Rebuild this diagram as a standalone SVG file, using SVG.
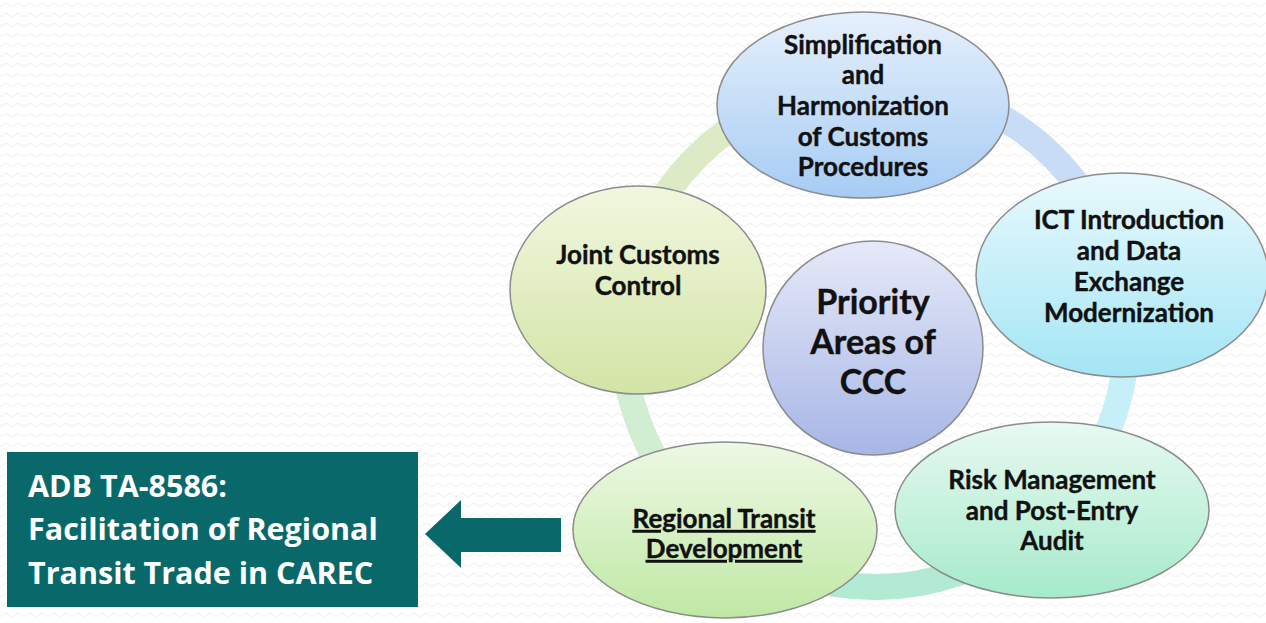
<svg xmlns="http://www.w3.org/2000/svg" width="1266" height="623" viewBox="0 0 1266 623">
<defs>
<pattern id="zz" x="0" y="0" width="12" height="10" patternUnits="userSpaceOnUse">
<polyline points="0,7 6,3 12,7" fill="none" stroke="#f3f3f3" stroke-width="1.4"/>
</pattern>
<linearGradient id="gSimp" x1="0" y1="0" x2="0" y2="1"><stop offset="0" stop-color="#e6f0fc"/><stop offset="1" stop-color="#a6ccf4"/></linearGradient>
<linearGradient id="gIct" x1="0" y1="0" x2="0" y2="1"><stop offset="0" stop-color="#e9f9fd"/><stop offset="1" stop-color="#a3e5f4"/></linearGradient>
<linearGradient id="gJoint" x1="0" y1="0" x2="0" y2="1"><stop offset="0" stop-color="#f1f7df"/><stop offset="1" stop-color="#d3e4a6"/></linearGradient>
<linearGradient id="gPrio" x1="0" y1="0" x2="0" y2="1"><stop offset="0" stop-color="#e6e9f8"/><stop offset="1" stop-color="#a7b6e6"/></linearGradient>
<linearGradient id="gReg" x1="0" y1="0" x2="0" y2="1"><stop offset="0" stop-color="#eef8e4"/><stop offset="1" stop-color="#bfe8a4"/></linearGradient>
<linearGradient id="gRisk" x1="0" y1="0" x2="0" y2="1"><stop offset="0" stop-color="#e8f9f1"/><stop offset="1" stop-color="#a6eacb"/></linearGradient>
</defs>
<style>
.node ellipse{stroke:#8c8c8c;stroke-width:1.5}
.t{font-family:Lato,"Liberation Sans",sans-serif;font-weight:bold;font-size:26px;fill:#111;text-anchor:middle;stroke:#111;stroke-width:0.4}
.big{font-size:34px}
.w{font-family:"Open Sans","Liberation Sans",sans-serif;font-weight:bold;font-size:30.5px;fill:#ffffff}
.ring{fill:none;stroke-width:26}
</style>
<rect width="1266" height="623" fill="#ffffff"/>
<rect width="1266" height="623" fill="url(#zz)"/>

<g id="connectors">
<path class="ring" stroke="#c6eff8" d="M1116.0,261.3 A252,252 0 0 1 1026.7,536.2"/>
<path class="ring" stroke="#b2ead3" d="M1026.7,536.2 A252,252 0 0 1 726.9,538.9"/>
<path class="ring" stroke="#d2eed2" d="M726.9,538.9 A252,252 0 0 1 628.5,282.6"/>
<path class="ring" stroke="#dcebc6" d="M628.5,282.6 A252,252 0 0 1 861.8,83.4"/>
<path class="ring" stroke="#c8ddf5" d="M861.8,83.4 A252,252 0 0 1 1116.0,261.3"/>
<polygon id="arrow" fill="#09696a" points="561,518 461,518 461,500 425,534 461,568 461,552 561,552"/>
</g>

<g id="node-adb">
<rect x="7" y="452" width="411" height="155" fill="#09696a"/>
<text class="w" x="28" y="497">ADB TA-8586:</text>
<text class="w" x="28" y="540">Facilitation of Regional</text>
<text class="w" x="28" y="584">Transit Trade in CAREC</text>
</g>

<g id="node-simplification" class="node">
<ellipse cx="863" cy="105" rx="146" ry="93" fill="url(#gSimp)"/>
<text class="t" x="863" y="54">Simplification</text>
<text class="t" x="863" y="84">and</text>
<text class="t" x="863" y="115">Harmonization</text>
<text class="t" x="863" y="146">of Customs</text>
<text class="t" x="863" y="176">Procedures</text>
</g>

<g id="node-ict" class="node">
<ellipse cx="1122" cy="275" rx="146" ry="102" fill="url(#gIct)"/>
<text class="t" x="1129" y="229">ICT Introduction</text>
<text class="t" x="1129" y="260">and Data</text>
<text class="t" x="1129" y="291">Exchange</text>
<text class="t" x="1129" y="322">Modernization</text>
</g>

<g id="node-joint" class="node">
<ellipse cx="638" cy="290" rx="128" ry="104" fill="url(#gJoint)"/>
<text class="t" x="638" y="264">Joint Customs</text>
<text class="t" x="638" y="295">Control</text>
</g>

<g id="node-risk" class="node">
<ellipse cx="1052" cy="510" rx="157" ry="88" fill="url(#gRisk)"/>
<text class="t" x="1052" y="489">Risk Management</text>
<text class="t" x="1052" y="520">and Post-Entry</text>
<text class="t" x="1052" y="550">Audit</text>
</g>

<g id="node-regional" class="node">
<ellipse cx="725" cy="530" rx="152" ry="88" fill="url(#gReg)"/>
<text class="t" x="724" y="528" text-decoration="underline">Regional Transit</text>
<text class="t" x="724" y="558" text-decoration="underline">Development</text>
</g>

<g id="node-priority" class="node">
<ellipse cx="873" cy="348" rx="110" ry="107" fill="url(#gPrio)"/>
<text class="t big" x="873" y="314">Priority</text>
<text class="t big" x="873" y="354">Areas of</text>
<text class="t big" x="873" y="394">CCC</text>
</g>
</svg>
